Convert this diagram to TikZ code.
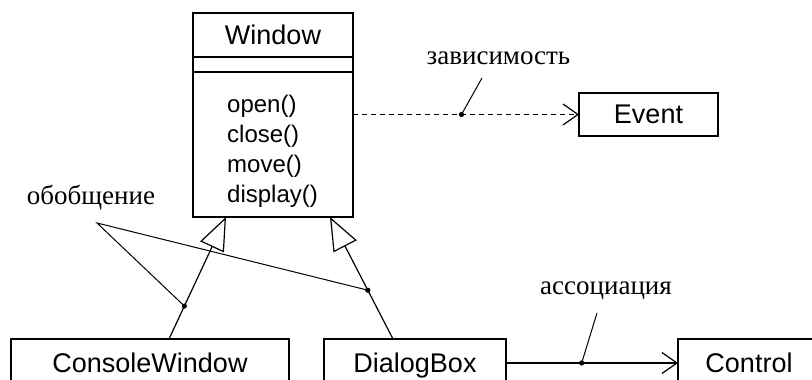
\documentclass[tikz,border=0pt]{standalone}
\usepackage{fontspec}
\setmainfont{Liberation Sans}
\newfontfamily\notefont{Liberation Serif}
\usetikzlibrary{arrows.meta,calc,positioning}

\begin{document}
\begin{tikzpicture}[x=1pt, y=1pt,
  cls/.style={draw, line width=1.3pt, outer sep=0pt, inner sep=0pt, text depth=0pt, font=\fontsize{27}{30}\selectfont},
  ops/.style={inner sep=0pt, align=left, font=\fontsize{24}{30}\selectfont},
  note/.style={inner sep=0pt, font=\notefont\fontsize{27}{30}\selectfont},
  gen/.style={line width=1.2pt, -{Triangle[open, length=33pt, width=26pt]}},
  dep/.style={line width=1.2pt, dash pattern=on 5pt off 4pt, -{Straight Barb[length=15pt, width=21pt]}},
  assoc/.style={line width=1.2pt, -{Straight Barb[length=15pt, width=21pt]}},
  leader/.style={line width=1pt},
  dot/.style={fill=black}]
\useasboundingbox (0,0) rectangle (812,380);
\clip (0,0) rectangle (812,380);
% Window
\node[cls, minimum width=160pt, minimum height=44pt] (win) at (273,345) {Window};
\node[cls, minimum width=160pt, minimum height=15pt, below=0pt of win] (winattr) {};
\node[cls, minimum width=160pt, minimum height=145pt, below=0pt of winattr] (winops) {};
\node[ops, anchor=north west] (winopstxt) at ([xshift=34pt, yshift=-23pt]winops.north west) {open()\\close()\\move()\\display()};
% Event
\node[cls, minimum width=139pt, minimum height=43pt] (ev) at (648.5,265.5) {Event};
% lower row
\node[cls, minimum width=278pt, minimum height=48pt] (cw) at (150,17) {ConsoleWindow};
\node[cls, minimum width=182pt, minimum height=48pt] (dlg) at (415,17) {DialogBox};
\node[cls, minimum width=142pt, minimum height=48pt] (ctl) at (749,17) {Control};
% dependency
\draw[dep] (winops.east |- ev.west) -- coordinate[pos=0.48] (depdot) (ev.west);
\coordinate (deptip) at (482,302);
\draw[leader] (depdot) -- (deptip);
\fill[dot] (depdot) circle (2.6pt);
\node[note, anchor=base] (deplbl) at (498.5,315) {зависимость};
% generalization
\draw[gen] ([xshift=19pt]cw.north) -- coordinate[pos=0.27] (gendotA) ([xshift=33pt]winops.south west);
\draw[gen] ([xshift=-22pt]dlg.north) -- coordinate[pos=0.4] (gendotB) ([xshift=-23pt]winops.south east);
\coordinate (genpt) at (97,157);
\draw[leader] (gendotA) -- (genpt) -- (gendotB);
\fill[dot] (gendotA) circle (2.6pt);
\fill[dot] (gendotB) circle (2.6pt);
\node[note, anchor=base] (genlbl) at (91,175) {обобщение};
% association
\draw[assoc] (dlg.east) -- coordinate[pos=0.44] (assocdot) (ctl.west);
\coordinate (assoctip) at (597,67);
\draw[leader] (assocdot) -- (assoctip);
\fill[dot] (assocdot) circle (2.6pt);
\node[note, anchor=base] (assoclbl) at (606,85) {ассоциация};
\end{tikzpicture}
\end{document}
